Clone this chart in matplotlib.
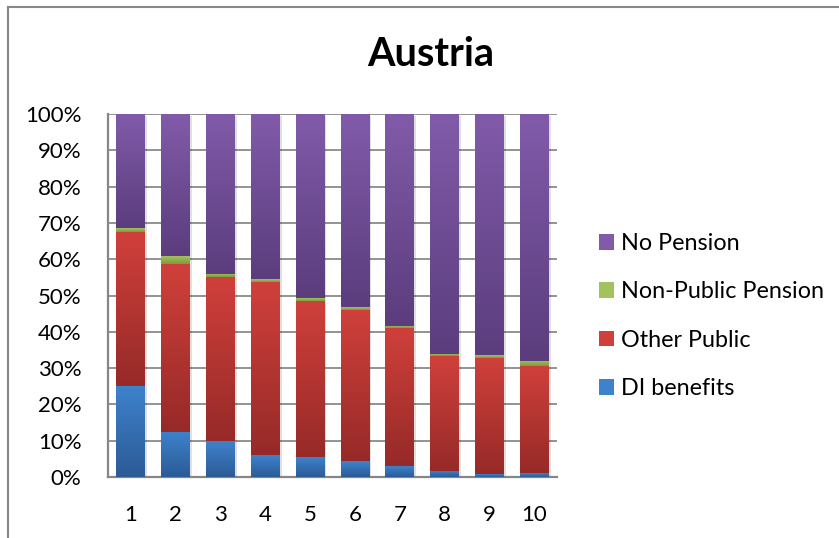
import numpy as np
import matplotlib
matplotlib.use("Agg")
import matplotlib.pyplot as plt
from matplotlib.patches import Patch, Rectangle
from matplotlib.lines import Line2D
from matplotlib.colors import LinearSegmentedColormap
import matplotlib.transforms as mtransforms

plt.rcParams['font.family'] = ['Lato', 'DejaVu Sans']

# Data (shares in percent)
categories = ["1", "2", "3", "4", "5", "6", "7", "8", "9", "10"]
di_benefits = [25.1, 12.5, 9.9, 6.0, 5.4, 4.4, 2.9, 1.7, 0.8, 1.0]
other_public = [42.4, 46.1, 45.2, 47.7, 43.0, 41.6, 38.2, 31.6, 32.0, 29.6]
non_public = [1.1, 2.2, 0.9, 0.8, 0.8, 0.7, 0.6, 0.7, 0.7, 1.4]
no_pension = [100 - a - b - c for a, b, c in zip(di_benefits, other_public, non_public)]

series = [
    ("DI benefits", di_benefits, "#3E82CC", "#2C5B96"),
    ("Other Public", other_public, "#D0403B", "#962A28"),
    ("Non-Public Pension", non_public, "#A2C25E", "#7E9A40"),
    ("No Pension", no_pension, "#815BAA", "#5B3D7D"),
]

W, H = 839, 538
fig = plt.figure(figsize=(W / 100, H / 100), dpi=100)
ax = fig.add_axes([108 / W, 1 - 477 / H, (557 - 108) / W, (477 - 114) / H])

x = np.arange(len(categories))
bar_w = 0.64

shadow_tf = mtransforms.offset_copy(ax.transData, fig=fig, x=2, y=-2, units='dots')

bottom = np.zeros(len(categories))
for name, vals, light, dark in series:
    cmap = LinearSegmentedColormap.from_list(name, [dark, light])
    grad = np.linspace(0, 1, 128).reshape(-1, 1)
    for i, v in enumerate(vals):
        y0, y1 = bottom[i], bottom[i] + v
        ax.add_patch(Rectangle((x[i] - bar_w / 2, y0), bar_w, v,
                               facecolor="#000000", alpha=0.12, lw=0,
                               transform=shadow_tf, zorder=2))
        ax.imshow(grad, cmap=cmap, origin='lower', aspect='auto',
                  extent=(x[i] - bar_w / 2, x[i] + bar_w / 2, y0, y1),
                  interpolation='bilinear', zorder=3)
    bottom += np.array(vals)

ax.set_xlim(-0.5, len(categories) - 0.5)
ax.set_ylim(0, 100)

ax.set_yticks(np.arange(0, 101, 10))
ax.set_yticklabels([f"{v}%" for v in range(0, 101, 10)])
ax.set_xticks(x)
ax.set_xticklabels(categories)
ax.tick_params(axis='both', length=0, labelsize=16, colors='black')
ax.tick_params(axis='y', pad=19)
ax.tick_params(axis='x', pad=20.5)

ax.grid(axis='y', color='#8a8a8a', linewidth=1.3, zorder=1)
ax.set_axisbelow(True)
for side in ['top', 'right']:
    ax.spines[side].set_visible(False)
for side in ['left', 'bottom']:
    ax.spines[side].set_color('#868686')
    ax.spines[side].set_linewidth(1.6)

fig.text(431 / W, 1 - 54 / H, "Austria", ha='center', va='center',
         fontsize=28.5, fontweight='bold')

handles = [Patch(facecolor=light, edgecolor='none') for _, _, light, _ in series[::-1]]
labels = [name for name, _, _, _ in series[::-1]]
fig.legend(handles, labels, loc='center left', bbox_to_anchor=(599 / W, 1 - 316 / H),
           frameon=False, fontsize=16.8, handlelength=0.65, handleheight=0.65,
           handletextpad=0.3, labelspacing=1.17, borderpad=0, borderaxespad=0)

# outer chart frame
fig.add_artist(Line2D([8 / W, 8 / W], [0, 1 - 6.5 / H], color='#878787', lw=1.5))
fig.add_artist(Line2D([8 / W, 1], [1 - 6.5 / H, 1 - 6.5 / H], color='#878787', lw=1.5))

fig.savefig("out.png", dpi=100)
